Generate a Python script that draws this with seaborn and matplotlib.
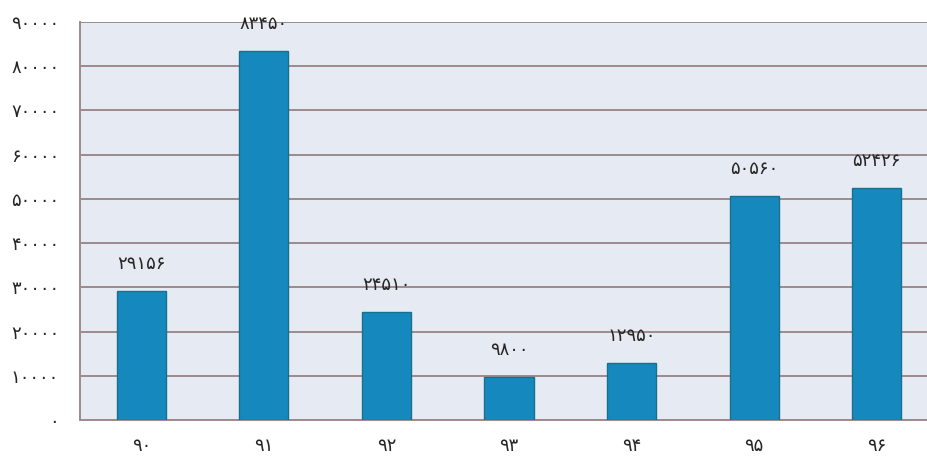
import numpy as np
import matplotlib
matplotlib.use("Agg")
import matplotlib.pyplot as plt
import seaborn as sns

# data
years = ["90", "91", "92", "93", "94", "95", "96"]
values = [29156, 83450, 24510, 9800, 12950, 50560, 52426]
y_ticks = [0, 10000, 20000, 30000, 40000, 50000, 60000, 70000, 80000, 90000]

FA = str.maketrans("0123456789", "۰۱۲۳۴۵۶۷۸۹")


def fa(n):
    return str(n).translate(FA)


sns.set_style("white")
plt.rcParams["font.family"] = ["DejaVu Sans"]

fig = plt.figure(figsize=(9.28, 4.57), dpi=100)
ax = fig.add_axes([80 / 928, 37 / 457, 858 / 928, 398 / 457])
ax.set_facecolor("#E6EAF2")

grid_col = "#9E8A8C"
sns.barplot(x=[fa(y) for y in years], y=values, color="#1589BD",
            saturation=1, width=0.4, edgecolor="#18708F", linewidth=1,
            ax=ax, zorder=3)

ax.set_ylim(0, 90000)
ax.set_xlim(-0.5, 6.5)
ax.set_yticks(y_ticks)
ax.set_yticklabels([fa(t) for t in y_ticks], fontsize=13)
ax.yaxis.grid(True, color=grid_col, linewidth=1.4, zorder=1)
ax.set_axisbelow(True)

ax.tick_params(axis="y", length=5, width=1.4, color=grid_col, pad=10)
ax.tick_params(axis="x", which="major", length=0, pad=12, labelsize=13)
ax.set_xticks(np.arange(-0.5, 7, 1), minor=True)
ax.tick_params(axis="x", which="minor", length=6, width=1.4, color=grid_col,
               direction="out")

for s in ["top", "right"]:
    ax.spines[s].set_visible(False)
for s in ["left", "bottom"]:
    ax.spines[s].set_color(grid_col)
    ax.spines[s].set_linewidth(1.4)

for i, v in enumerate(values):
    ax.annotate(fa(v), (i, v), xytext=(0, 13), textcoords="offset points",
                ha="center", va="bottom", fontsize=13)

ax.set_xlabel("")
ax.set_ylabel("")
fig.savefig("out.png", dpi=100)
